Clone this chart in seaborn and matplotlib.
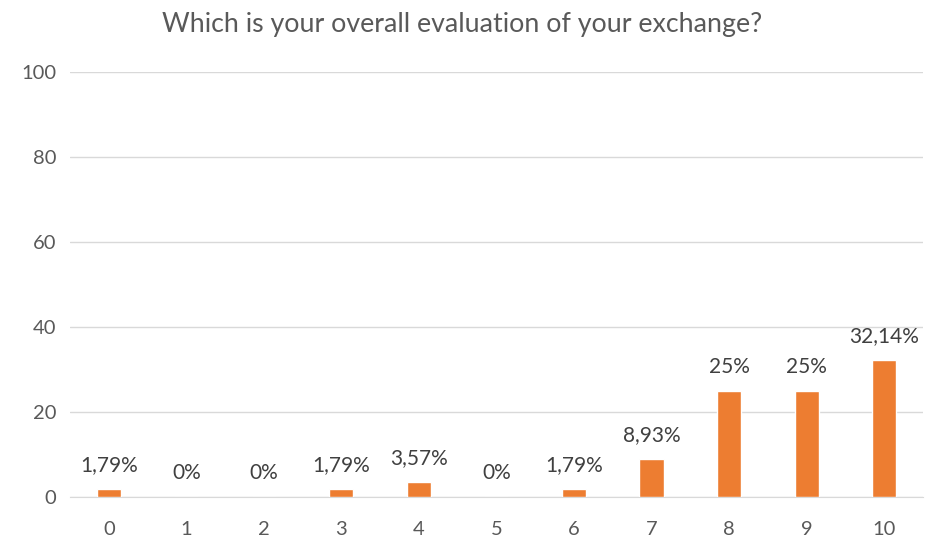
import matplotlib
matplotlib.use('Agg')
import matplotlib.pyplot as plt
import seaborn as sns
import pandas as pd

# data
notas = ['0', '1', '2', '3', '4', '5', '6', '7', '8', '9', '10']
percentuais = [1.79, 0, 0, 1.79, 3.57, 0, 1.79, 8.93, 25, 25, 32.14]
rotulos = ['1,79%', '0%', '0%', '1,79%', '3,57%', '0%', '1,79%', '8,93%', '25%', '25%', '32,14%']
y_ticks = [0, 20, 40, 60, 80, 100]

df = pd.DataFrame({'Nota': notas, 'Pct': percentuais})

sns.set_style('white')
plt.rcParams['font.family'] = ['Lato', 'DejaVu Sans']
cinza = '#595959'

fig = plt.figure(figsize=(9.25, 5.42), dpi=100)
ax = fig.add_axes([0.0757, 0.083, 0.922, 0.784])

sns.barplot(data=df, x='Nota', y='Pct', color='#ED7D31', saturation=1, width=0.31, ax=ax, zorder=3)

for i, (v, txt) in enumerate(zip(percentuais, rotulos)):
    ax.annotate(txt, (i, v), xytext=(0, 10), textcoords='offset points',
                ha='center', va='bottom', fontsize=15, color='#404040')

ax.set_ylim(0, 100)
ax.set_xlim(-0.5, 10.5)
ax.set_yticks(y_ticks)
ax.yaxis.grid(True, color='#D9D9D9', linewidth=1, zorder=0)
for s in ['top', 'right', 'left']:
    ax.spines[s].set_visible(False)
ax.spines['bottom'].set_color('#D9D9D9')
ax.tick_params(axis='both', length=0, labelsize=14.5, labelcolor=cinza)
ax.tick_params(axis='x', pad=17)
ax.tick_params(axis='y', pad=10)
ax.set_xlabel('')
ax.set_ylabel('')

fig.suptitle('Which is your overall evaluation of your exchange?', y=0.978,
             fontsize=19.3, color=cinza)

fig.savefig('out.png', dpi=100)
